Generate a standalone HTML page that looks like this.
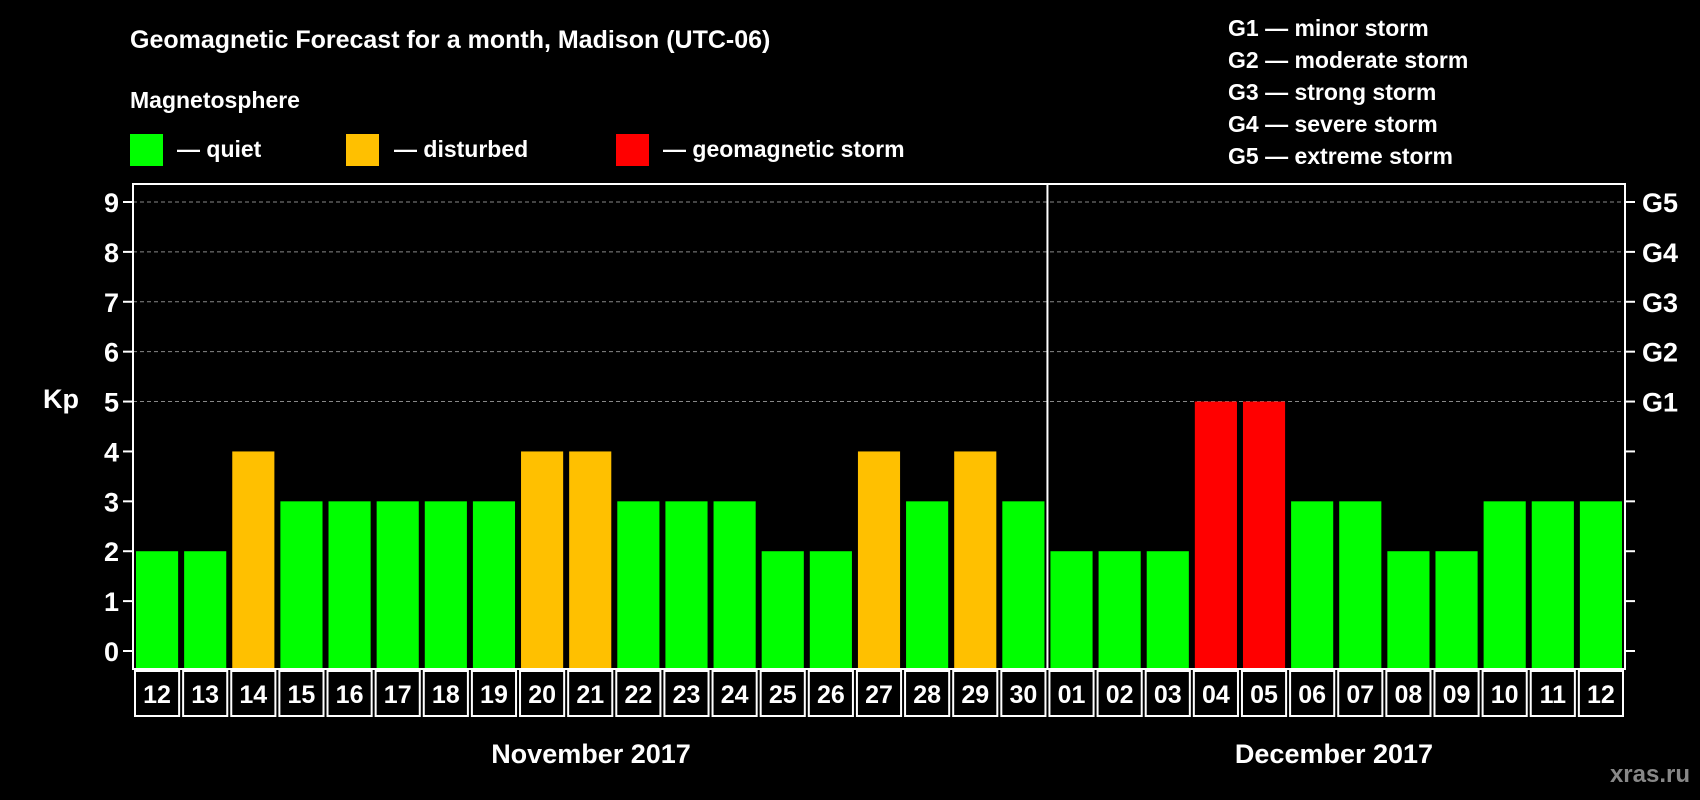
<!DOCTYPE html>
<html><head><meta charset="utf-8"><style>
html,body{margin:0;padding:0;background:#000;}
svg{display:block;font-family:"Liberation Sans",Arial,sans-serif;font-weight:bold;}
</style></head><body>
<svg id="chart" width="1700" height="800" viewBox="0 0 1700 800">
<text x="130" y="48" fill="#fff" font-size="25">Geomagnetic Forecast for a month, Madison (UTC-06)</text>
<text x="130" y="108" fill="#fff" font-size="23">Magnetosphere</text>
<rect x="130" y="134" width="33" height="32" fill="#00ff00"/>
<text x="177" y="157" fill="#fff" font-size="23">— quiet</text>
<rect x="346" y="134" width="33" height="32" fill="#ffc000"/>
<text x="394" y="157" fill="#fff" font-size="23">— disturbed</text>
<rect x="616" y="134" width="33" height="32" fill="#ff0000"/>
<text x="663" y="157" fill="#fff" font-size="23">— geomagnetic storm</text>
<g fill="#fff" font-size="23">
<text x="1228" y="36">G1 — minor storm</text>
<text x="1228" y="68">G2 — moderate storm</text>
<text x="1228" y="100">G3 — strong storm</text>
<text x="1228" y="132">G4 — severe storm</text>
<text x="1228" y="164">G5 — extreme storm</text>
</g>
<text x="43" y="408" fill="#fff" font-size="27">Kp</text>
<g id="plot"></g>
<text x="591" y="763" fill="#fff" font-size="27" text-anchor="middle">November 2017</text>
<text x="1334" y="763" fill="#fff" font-size="27" text-anchor="middle">December 2017</text>
<text x="1690" y="782" fill="#888" font-size="24" text-anchor="end">xras.ru</text>
</svg>
<script>
const days = ["12","13","14","15","16","17","18","19","20","21","22","23","24","25","26","27","28","29","30","01","02","03","04","05","06","07","08","09","10","11","12"];
const kpValues = [2,2,4,3,3,3,3,3,4,4,3,3,3,2,2,4,3,4,3,2,2,2,5,5,3,3,2,2,3,3,3];
const yTicks = [0,1,2,3,4,5,6,7,8,9];
const gLabels = ["","","","","","G1","G2","G3","G4","G5"];
const monthBreakIndex = 19;

const NS = "http://www.w3.org/2000/svg";
const plot = document.getElementById('plot');
const L = 133, R = 1625, T = 184, B = 669, Y0 = 651, Y9 = 202;
const bw = (R - L) / days.length;
const y = v => Y0 - (Y0 - Y9) * v / 9;
const x = i => L + i * bw;
function mk(tag, attrs) { const e = document.createElementNS(NS, tag); for (const k in attrs) e.setAttribute(k, attrs[k]); plot.appendChild(e); return e; }

yTicks.forEach((t, i) => {
  if (t >= 5) {
    const g = mk('line', {x1: L, x2: R, y1: y(t), y2: y(t), stroke: '#888', 'stroke-width': 1, 'stroke-dasharray': '4,3'});
    
    
  }
  const tl = mk('line', {x1: L - 10, x2: L, y1: y(t), y2: y(t), stroke: '#fff', 'stroke-width': 2});
  
  
  const tr = mk('line', {x1: R, x2: R + 10, y1: y(t), y2: y(t), stroke: '#fff', 'stroke-width': 2});
  
  
  const lb = mk('text', {x: L - 14, y: y(t) + 10, fill: '#fff', 'font-size': 27, 'text-anchor': 'end'});
  lb.textContent = t;
  
  
  if (gLabels[i]) {
    const gl = mk('text', {x: R + 17, y: y(t) + 10, fill: '#fff', 'font-size': 27});
    gl.textContent = gLabels[i];
    
    
  }
});

kpValues.forEach((v, i) => {
  const col = v >= 5 ? '#ff0000' : (v >= 4 ? '#ffc000' : '#00ff00');
  const r = mk('rect', {x: x(i) + 3, y: y(v), width: bw - 6, height: B - y(v), fill: col});
  
  
  const bx = mk('rect', {x: x(i) + 2, y: B + 2, width: bw - 4, height: 45, fill: '#000', stroke: '#fff', 'stroke-width': 2});
  
  
  const dt = mk('text', {x: x(i) + bw / 2, y: B + 34, fill: '#fff', 'font-size': 25, 'text-anchor': 'middle'});
  dt.textContent = days[i];
  
  
});

const frame = mk('rect', {x: L, y: T, width: R - L, height: B - T, fill: 'none', stroke: '#fff', 'stroke-width': 2});


const div = mk('line', {x1: x(monthBreakIndex), x2: x(monthBreakIndex), y1: T, y2: B, stroke: '#fff', 'stroke-width': 2});


</script>
</body></html>
